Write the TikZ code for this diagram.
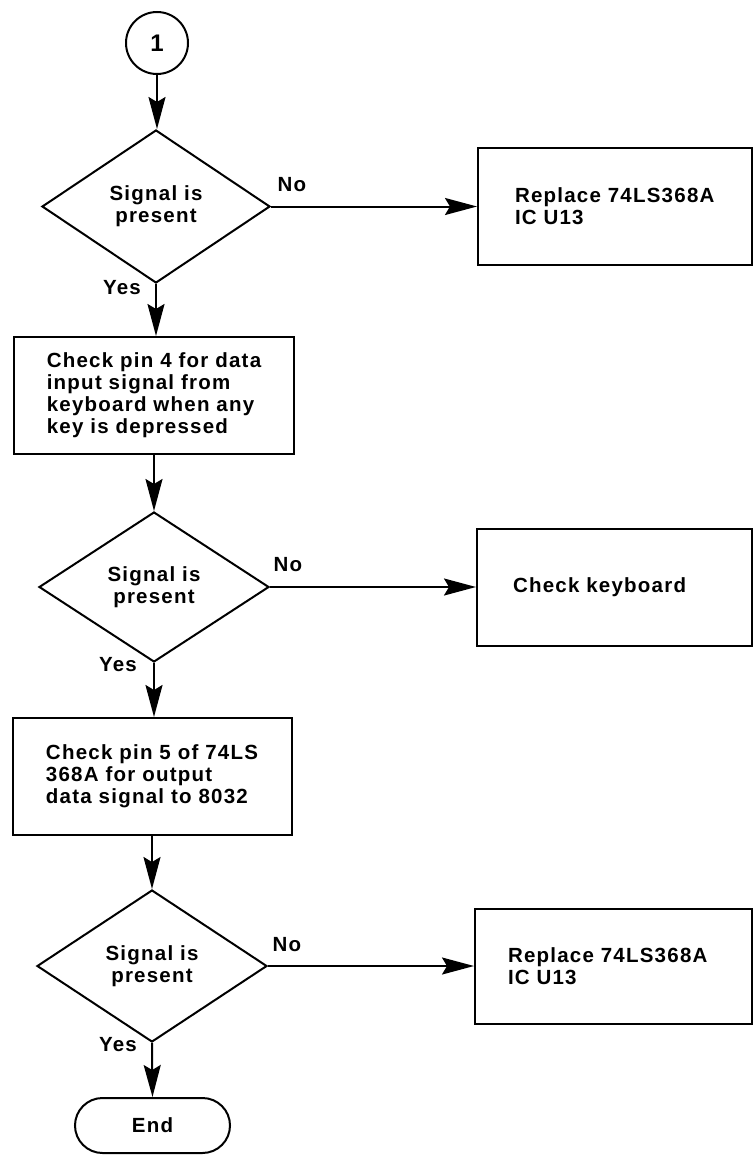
\documentclass[tikz,border=0pt]{standalone}
\usepackage{fontspec}
\setmainfont{Liberation Sans}[LetterSpace=6]
\usetikzlibrary{shapes.geometric,shapes.misc,arrows.meta}
\begin{document}
\begin{tikzpicture}[x=1pt,y=-1pt,
  every node/.style={font=\fontsize{20.5}{22}\selectfont\bfseries},
  ln/.style={line width=2pt},
  circ/.style={ln,draw,circle,minimum size=62pt,inner sep=0pt,font=\fontsize{24}{26}\selectfont\bfseries},
  dec/.style={ln,draw,diamond,inner sep=0pt,align=center},
  pbox/.style={ln,draw,rectangle,align=left,inner sep=0pt},
  rbox/.style={ln,draw,rectangle,align=left,inner ysep=0pt},
  term/.style={ln,draw,rounded rectangle,minimum width=155pt,minimum height=55pt,inner sep=0pt},
  lbl/.style={inner sep=0pt},
  arr/.style={ln,-{Stealth[length=32pt,width=17pt,inset=5pt]}}]
\useasboundingbox (0,0) rectangle (753,1159);

\node[circ] (c1) at (157,43) {1};

\node[dec,minimum width=228pt,minimum height=153pt] (d1) at (156,206.5) {Signal is\\present};
\node[rbox,inner xsep=37pt,text width=200pt,minimum height=117pt] (b1) at (615,206.5) {Replace 74LS368A\\IC U13};
\node[lbl] (no1) at (292,185) {No};
\node[lbl] (yes1) at (122,288) {Yes};

\node[pbox,minimum width=280pt,minimum height=117pt] (b2) at (154,395.5) {Check pin 4 for data\\input signal from\\keyboard when any\\key is depressed};

\node[dec,minimum width=230pt,minimum height=150pt] (d2) at (154,587) {Signal is\\present};
\node[rbox,inner xsep=36pt,text width=203pt,minimum height=117pt] (b4) at (614.5,587) {Check keyboard};
\node[lbl] (no2) at (288,565) {No};
\node[lbl] (yes2) at (118,665) {Yes};

\node[pbox,minimum width=279pt,minimum height=117pt] (b3) at (152,776.5) {Check pin 5 of 74LS\\368A for output\\data signal to 8032};

\node[dec,minimum width=230pt,minimum height=152pt] (d3) at (152,966) {Signal is\\present};
\node[rbox,inner xsep=33pt,text width=211pt,minimum height=115pt] (b5) at (613.5,966) {Replace 74LS368A\\IC U13};
\node[lbl] (no3) at (287,945) {No};
\node[lbl] (yes3) at (118,1045) {Yes};

\node[term] (e) at (152.5,1125.5) {End};

\draw[arr] (c1.south) -- (c1.south |- d1.north);
\draw[arr] (d1.east) -- (b1.west);
\draw[arr] (d1.south) -- (d1.south |- b2.north);
\draw[arr] (b2.south) -- (b2.south |- d2.north);
\draw[arr] (d2.east) -- (b4.west);
\draw[arr] (d2.south) -- (d2.south |- b3.north);
\draw[arr] (b3.south) -- (b3.south |- d3.north);
\draw[arr] (d3.east) -- (b5.west);
\draw[arr] (d3.south) -- (e.north);
\end{tikzpicture}
\end{document}
